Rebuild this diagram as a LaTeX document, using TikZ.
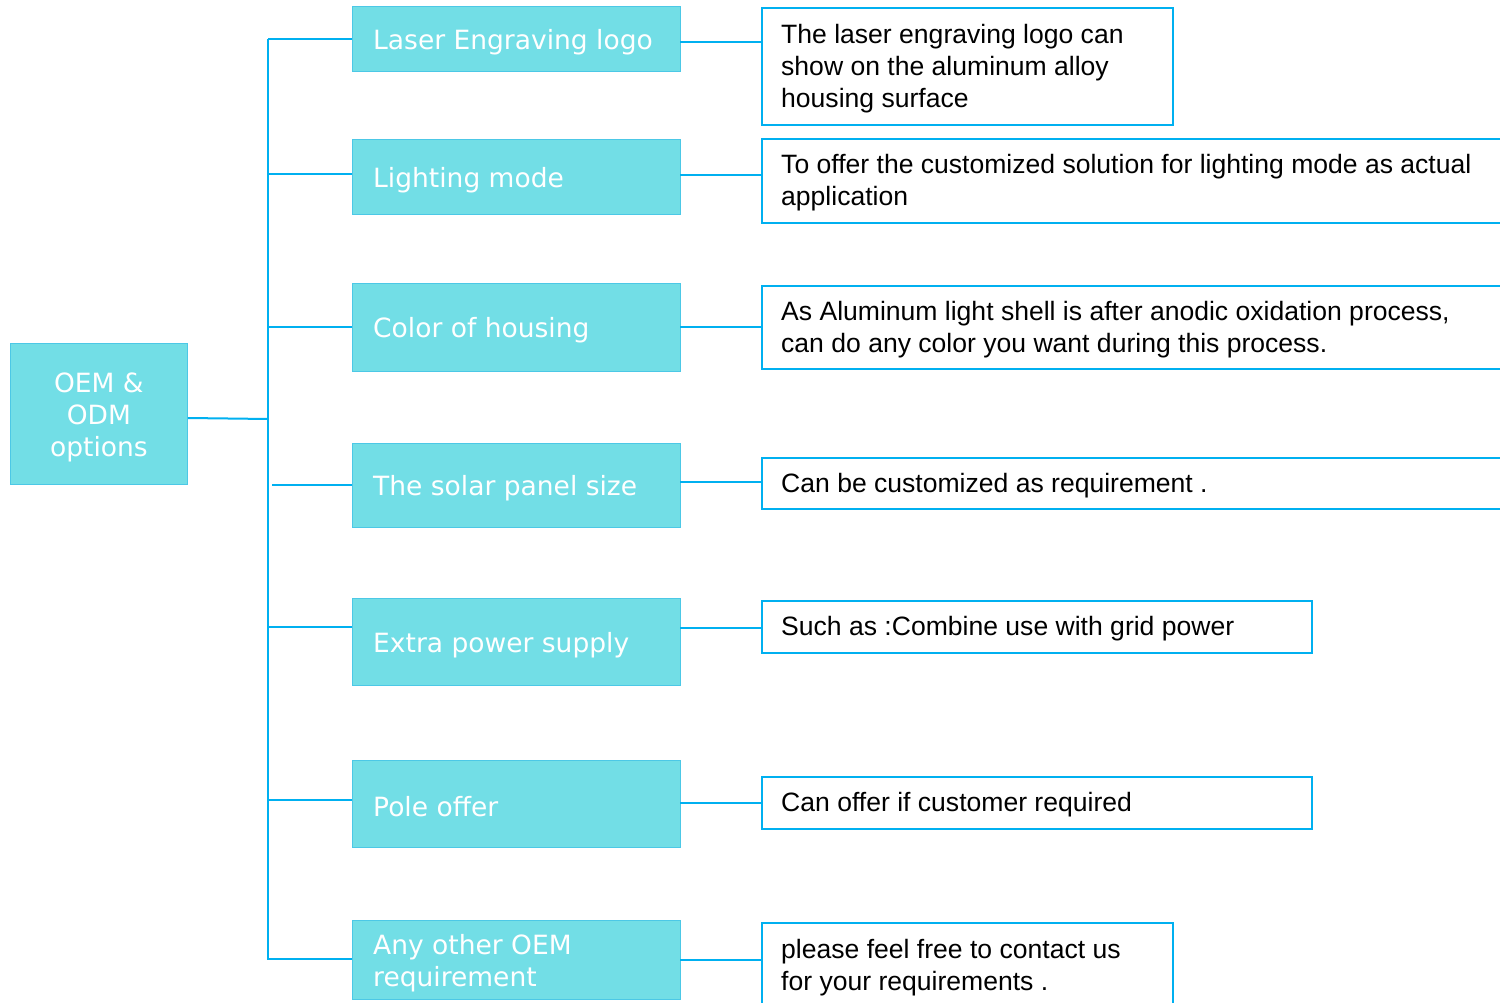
\documentclass[tikz,border=0pt]{standalone}
\usepackage{fontspec}
\setmainfont{Liberation Sans}
\newfontfamily\vfont{DejaVu Sans}
\definecolor{tealfill}{HTML}{72DEE6}
\definecolor{tealedge}{HTML}{4CC8E6}
\definecolor{linkblue}{HTML}{00B0F0}
\tikzset{
  rootbox/.style={fill=tealfill, draw=tealedge, line width=0.8pt, anchor=north west, inner sep=0pt},
  midbox/.style={fill=tealfill, draw=tealedge, line width=0.8pt, anchor=north west, inner sep=0pt,
    minimum width=328pt},
  descbox/.style={draw=linkblue, line width=2pt, fill=white, anchor=north west, inner sep=0pt},
  whitetext/.style={text=white, font=\vfont\fontsize{26.5}{32}\selectfont, inner sep=0pt},
  blacktext/.style={text=black, font=\fontsize{26.55}{32}\selectfont, inner sep=0pt, anchor=west, align=left},
  link/.style={draw=linkblue, line width=2pt}
}
\begin{document}
\begin{tikzpicture}[x=1pt,y=-1pt]
\clip (0,0) rectangle (1500,1003);
\fill[white] (0,0) rectangle (1500,1003);

% root
\node[rootbox, minimum width=177pt, minimum height=141pt] (root) at (10,343) {};
\node[whitetext, align=center] (roott) at ([yshift=-4pt]root.center) {OEM \&\\ODM\\options};

% middle boxes
\node[midbox, minimum height=65pt] (m1) at (352,6) {};
\node[midbox, minimum height=75pt] (m2) at (352,139) {};
\node[midbox, minimum height=88pt] (m3) at (352,283) {};
\node[midbox, minimum height=84pt] (m4) at (352,443) {};
\node[midbox, minimum height=87pt] (m5) at (352,598) {};
\node[midbox, minimum height=87pt] (m6) at (352,760) {};
\node[midbox, minimum height=79pt] (m7) at (352,920) {};
\tikzset{midtext/.style={whitetext, anchor=west, align=left}}
\node[midtext] (m1t) at ([xshift=21pt,yshift=-3pt]m1.west) {Laser Engraving logo};
\node[midtext] (m2t) at ([xshift=21pt,yshift=-3pt]m2.west) {Lighting mode};
\node[midtext] (m3t) at ([xshift=21pt,yshift=-3pt]m3.west) {Color of housing};
\node[midtext] (m4t) at ([xshift=21pt,yshift=-3pt]m4.west) {The solar panel size};
\node[midtext] (m5t) at ([xshift=21pt,yshift=-3pt]m5.west) {Extra power supply};
\node[midtext] (m6t) at ([xshift=21pt,yshift=-3pt]m6.west) {Pole offer};
\node[midtext] (m7t) at ([xshift=21pt,yshift=-3pt]m7.west) {Any other OEM\\requirement};

% description boxes
\node[descbox, minimum width=411pt, minimum height=117pt] (r1) at (761,7) {};
\node[descbox, minimum width=800pt, minimum height=84pt] (r2) at (761,138) {};
\node[descbox, minimum width=800pt, minimum height=83pt] (r3) at (761,285) {};
\node[descbox, minimum width=800pt, minimum height=51pt] (r4) at (761,457) {};
\node[descbox, minimum width=550pt, minimum height=52pt] (r5) at (761,600) {};
\node[descbox, minimum width=550pt, minimum height=52pt] (r6) at (761,776) {};
\node[descbox, minimum width=411pt, minimum height=88pt] (r7) at (761,922) {};
\node[blacktext] (r1t) at ([xshift=20pt,yshift=-2pt]r1.west)
  {The laser engraving logo can\\show on the aluminum alloy\\housing surface};
\node[blacktext] (r2t) at ([xshift=20pt,yshift=-2pt]r2.west)
  {To offer the customized solution for lighting mode as actual\\application};
\node[blacktext] (r3t) at ([xshift=20pt,yshift=-2pt]r3.west)
  {As Aluminum light shell is after anodic oxidation process,\\can do any color you want during this process.};
\node[blacktext] (r4t) at ([xshift=20pt,yshift=-2pt]r4.west)
  {Can be customized as requirement .};
\node[blacktext] (r5t) at ([xshift=20pt,yshift=-2pt]r5.west)
  {Such as :Combine use with grid power};
\node[blacktext] (r6t) at ([xshift=20pt,yshift=-2pt]r6.west)
  {Can offer if customer required};
\node[blacktext] (r7t) at ([xshift=20pt,yshift=-1pt]r7.west)
  {please feel free to contact us\\for your requirements .};

% trunk
\coordinate (ttop) at (268,39);
\coordinate (tbot) at (268,960);
\coordinate (troot) at (268,419);
\draw[link] (ttop) -- (tbot);
\draw[link] (root.east |- 0,418) -- (troot);

% branches trunk -> middle
\coordinate (b1) at (268,39);
\coordinate (b2) at (268,174);
\coordinate (b3) at (268,327);
\coordinate (b4) at (272,485);
\coordinate (b5) at (268,627);
\coordinate (b6) at (268,800);
\coordinate (b7) at (268,959);
\foreach \i in {1,...,7} {\draw[link, line width=1.5pt] (b\i) -- (b\i -| m\i.west);}

% middle -> description
\coordinate (a1) at (680,42);
\coordinate (a2) at (680,175);
\coordinate (a3) at (680,327);
\coordinate (a4) at (680,482);
\coordinate (a5) at (680,628);
\coordinate (a6) at (680,803);
\coordinate (a7) at (680,960);
\foreach \i in {1,...,7} {\draw[link, line width=1.5pt] (a\i) -- (a\i -| r\i.west);}
\end{tikzpicture}
\end{document}
